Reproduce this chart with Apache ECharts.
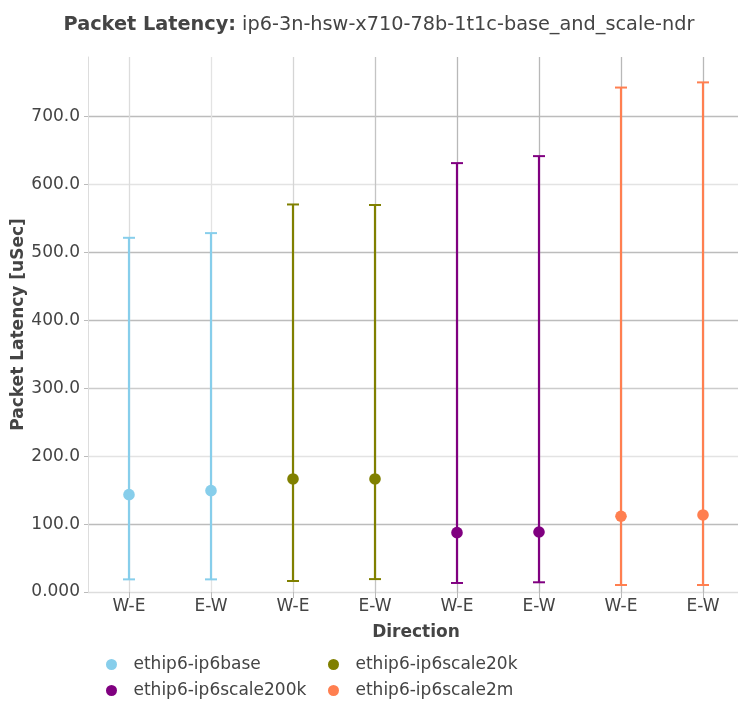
<!DOCTYPE html>
<html>
<head>
<meta charset="utf-8">
<script src="https://cdn.jsdelivr.net/npm/echarts@6/dist/echarts.min.js"></script>
<style>
html,body{margin:0;padding:0;background:#fff;}
#chart{width:738px;height:701px;}
</style>
</head>
<body>
<div id="chart"></div>
<script>
// ---- data ----
const categories = ['W-E','E-W','W-E','E-W','W-E','E-W','W-E','E-W'];
const seriesNames = ['ethip6-ip6base','ethip6-ip6scale20k','ethip6-ip6scale200k','ethip6-ip6scale2m'];
const seriesColors = ['#87CEEB','#808000','#800080','#FF7F50'];
const seriesCatIndex = [[0,1],[2,3],[4,5],[6,7]];
const meanValues = [[143.4,149.3],[166.5,166.5],[87.4,88.4],[111.6,113.5]];
const minValues  = [[18.6,18.6],[16.2,19.0],[13.3,14.3],[10.3,10.3]];
const maxValues  = [[521.7,528.6],[570.8,570.0],[631.7,642.0],[743.0,750.6]];
const yTickValues = [0,100,200,300,400,500,600,700];

const FONT = "'DejaVu Sans', sans-serif";
const chart = echarts.init(document.getElementById('chart'), null, {renderer:'canvas'});

function renderItem(params, api) {
  const x = api.value(0);
  const pMean = api.coord([x, api.value(1)]);
  const pMin = api.coord([x, api.value(2)]);
  const pMax = api.coord([x, api.value(3)]);
  const color = api.visual('color');
  const capHalf = 6;
  return {
    type: 'group',
    children: [
      {type:'line', shape:{x1:pMin[0], y1:pMin[1], x2:pMax[0], y2:pMax[1]}, style:{stroke:color, lineWidth:2.2}},
      {type:'line', shape:{x1:pMin[0]-capHalf, y1:pMin[1], x2:pMin[0]+capHalf, y2:pMin[1]}, style:{stroke:color, lineWidth:2}},
      {type:'line', shape:{x1:pMax[0]-capHalf, y1:pMax[1], x2:pMax[0]+capHalf, y2:pMax[1]}, style:{stroke:color, lineWidth:2}},
      {type:'circle', shape:{cx:pMean[0], cy:pMean[1], r:5.8}, style:{fill:color}}
    ]
  };
}

const series = seriesNames.map((name, s) => ({
  name: name,
  type: 'custom',
  renderItem: renderItem,
  itemStyle: {color: seriesColors[s]},
  encode: {x: 0, y: [1,2,3]},
  data: seriesCatIndex[s].map((ci, k) => [ci, meanValues[s][k], minValues[s][k], maxValues[s][k]])
}));

const legendText = {fontFamily: FONT, fontSize: 17, color: '#444', lineHeight: 17};

chart.setOption({
  animation: false,
  backgroundColor: '#fff',
  title: {
    text: '{b|Packet Latency:} ip6-3n-hsw-x710-78b-1t1c-base_and_scale-ndr',
    left: 374, top: 10, textAlign: 'center',
    textStyle: {
      fontFamily: FONT, fontSize: 19.3, fontWeight: 'normal', color: '#444',
      rich: {b: {fontFamily: FONT, fontSize: 19.3, fontWeight: 'bold', color: '#444'}}
    }
  },
  legend: [
    {
      data: [seriesNames[0], seriesNames[2]],
      orient: 'vertical', left: 106, top: 656, itemGap: 9, padding: 0,
      icon: 'circle', itemWidth: 34, itemHeight: 11,
      textStyle: legendText
    },
    {
      data: [seriesNames[1], seriesNames[3]],
      orient: 'vertical', left: 328, top: 656, itemGap: 9, padding: 0,
      icon: 'circle', itemWidth: 34, itemHeight: 11,
      textStyle: legendText
    }
  ],
  grid: {left: 88, top: 57, width: 656, height: 535, containLabel: false, outerBoundsMode: 'none'},
  xAxis: {
    type: 'category',
    data: categories,
    name: 'Direction',
    nameLocation: 'middle',
    nameGap: 32,
    nameMoveOverlap: false,
    nameTextStyle: {fontFamily: FONT, fontSize: 17, fontWeight: 'bold', color: '#444'},
    axisLine: {show: true, lineStyle: {color: '#ddd', width: 1}},
    axisTick: {show: true, alignWithLabel: true, length: 6, lineStyle: {color: '#bbb'}},
    axisLabel: {fontFamily: FONT, fontSize: 17, color: '#444', margin: 6},
    splitLine: {
      show: true, alignWithLabel: true,
      lineStyle: {color: ['#dcdcdc','#e3e3e3','#d5d5d5','#c4c4c4','#b8b8b8','#b8b8b8','#b8b8b8','#b8b8b8'], width: 1.3}
    }
  },
  yAxis: {
    type: 'value',
    min: 0, max: 788, interval: 100,
    name: 'Packet Latency [uSec]',
    nameLocation: 'middle',
    nameGap: 61,
    nameMoveOverlap: false,
    nameTextStyle: {fontFamily: FONT, fontSize: 17, fontWeight: 'bold', color: '#444'},
    axisLine: {show: true, lineStyle: {color: '#ddd'}},
    axisTick: {show: true, length: 4, lineStyle: {color: '#bbb'}},
    axisLabel: {
      fontFamily: FONT, fontSize: 17, color: '#444', margin: 8,
      showMaxLabel: false,
      formatter: v => (yTickValues.indexOf(v) < 0 ? '' : (v === 0 ? '0.000' : v.toFixed(1)))
    },
    splitLine: {
      show: true, showMaxLine: false,
      lineStyle: {color: ['#e0e0e0','#bcbcbc','#e3e3e3','#cccccc','#bcbcbc','#bcbcbc','#e3e3e3','#bcbcbc','#ffffff'], width: 1.3}
    }
  },
  series: series
});
</script>
</body>
</html>
